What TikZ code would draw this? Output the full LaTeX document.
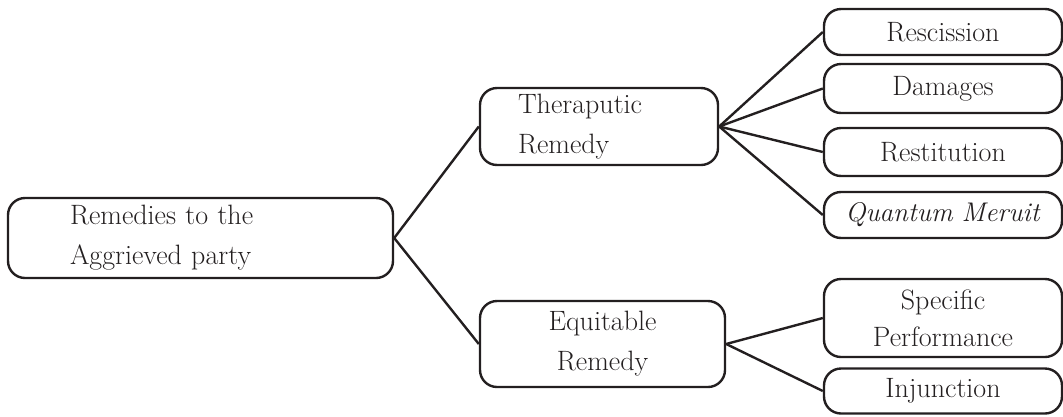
\documentclass[tikz,border=0pt]{standalone}
\usepackage{tikz}

\definecolor{ink}{HTML}{231F20}

\begin{document}
\begin{tikzpicture}[x=1pt, y=-1pt,
    box/.style={draw=ink, line width=2.4pt, rounded corners=17pt, inner sep=0pt,
        text=ink, font=\fontsize{28}{40}\selectfont},
    leaf/.style={box, minimum width=238, text width=234, align=center},
    link/.style={draw=ink, line width=2.4pt}]

    \useasboundingbox (0,0) rectangle (1063,416);

    \node[box, minimum width=385, minimum height=80, text width=261, align=left] (root) at (200.5,238)
    {Remedies to the\\Aggrieved party};

    \node[box, minimum width=238, minimum height=77, text width=162, align=left] (thera) at (599,126.5)
    {Theraputic\\Remedy};
    \node[box, minimum width=245, minimum height=86, text width=200, align=center] (equit) at (602.5,344)
    {Equitable\\Remedy};

    \node[leaf, minimum height=46] (resc) at (943,32) {Rescission};
    \node[leaf, minimum height=49] (dam) at (943,88.5) {Damages};
    \node[leaf, minimum height=48] (rest) at (943,152) {Restitution};
    \node[leaf, minimum height=46, font=\fontsize{27}{40}\selectfont] (quant) at (943,215) {\textit{Quantum Meruit}};

    \node[leaf, minimum height=78, font=\fontsize{28}{37}\selectfont] (spec) at (943,318) {Specific\\Performance};
    \node[leaf, minimum height=45] (injun) at (943,391) {Injunction};

    \draw[link] (root.east) -- (thera.west);
    \draw[link] (root.east) -- (equit.west);

    \foreach \kid in {resc, dam, rest, quant}
        \draw[link] (thera.east) -- (\kid.west);
    \foreach \kid in {spec, injun}
        \draw[link] (equit.east) -- (\kid.west);

\end{tikzpicture}
\end{document}
